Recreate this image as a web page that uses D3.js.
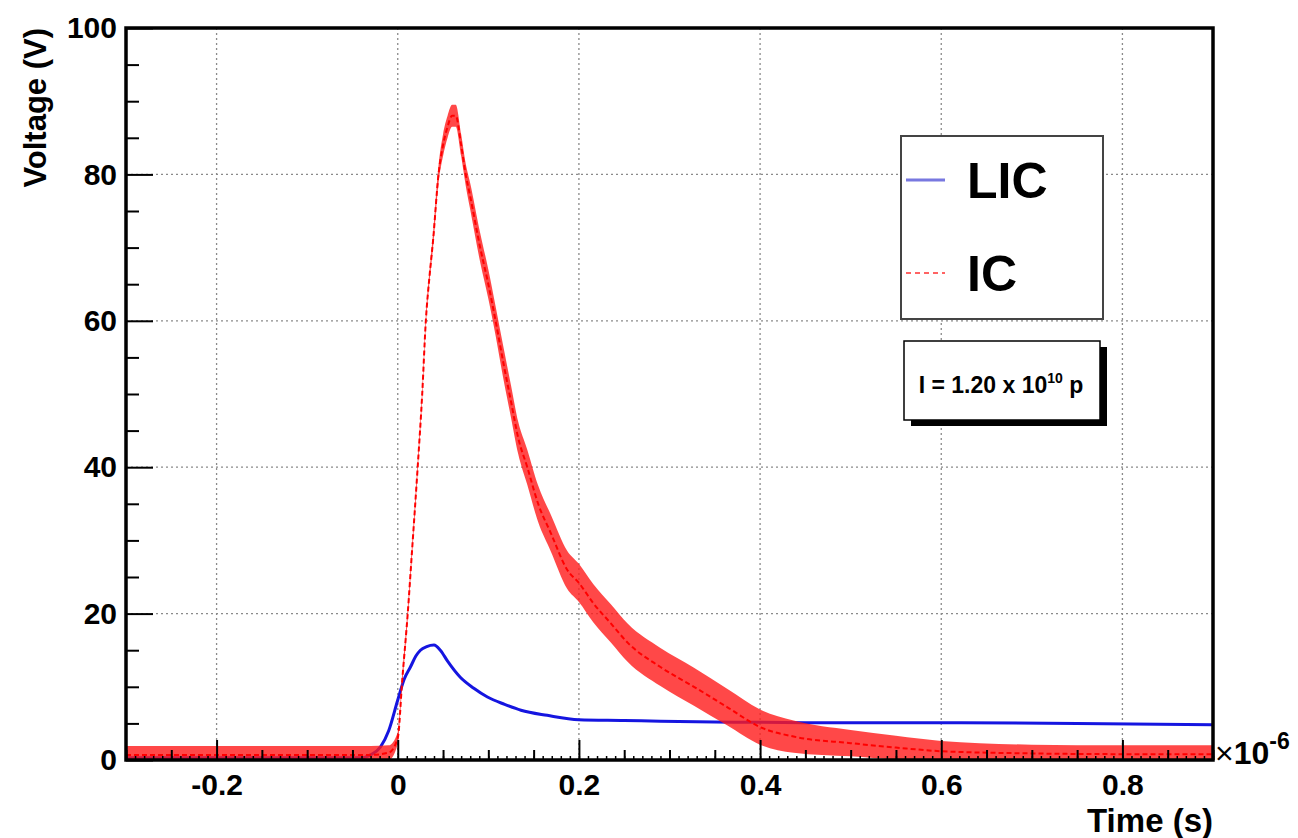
<!DOCTYPE html>
<html>
<head>
<meta charset="utf-8">
<script src="https://cdn.jsdelivr.net/npm/d3@7"></script>
<style>
  body { margin: 0; background: #fff; }
  svg { display: block; font-family: "Liberation Sans", Arial, Helvetica, sans-serif; }
</style>
</head>
<body>
<svg id="chart"></svg>
<script>
(function() {

// ---- data (time in 1e-6 s, voltage in V) ----
const licTime = [-0.3, -0.1, -0.04, -0.03, -0.019, -0.01, 0, 0.007, 0.014, 0.02, 0.025, 0.032, 0.04, 0.047, 0.055, 0.069, 0.084, 0.099, 0.118, 0.136, 0.165, 0.2, 0.25, 0.29, 0.35, 0.45, 0.6, 0.75, 0.9];
const licVolt = [0.3, 0.3, 0.3, 0.7, 1.8, 4, 8.2, 11, 12.7, 14.2, 15.0, 15.5, 15.7, 15.0, 13.5, 11.3, 9.8, 8.6, 7.6, 6.8, 6.1, 5.5, 5.4, 5.3, 5.2, 5.1, 5.1, 5.0, 4.8];

const icTime = [-0.3, -0.2, -0.1, -0.03, -0.01, 0, 0.005, 0.011, 0.016, 0.022, 0.027, 0.031, 0.035, 0.039, 0.045, 0.05, 0.055, 0.06, 0.064, 0.07, 0.075, 0.08, 0.091, 0.1, 0.108, 0.117, 0.125, 0.133, 0.143, 0.155, 0.169, 0.187, 0.2, 0.216, 0.235, 0.254, 0.29, 0.327, 0.364, 0.4, 0.437, 0.5, 0.55, 0.6, 0.7, 0.8, 0.9];
const icVolt = [0.7, 0.7, 0.7, 0.7, 1.0, 3, 11, 20, 29, 40, 50, 60, 66, 71, 80, 84, 86.5, 88, 88, 84, 80, 77, 70, 65, 60, 54, 49, 44, 40, 35, 31, 26, 24.2, 21.4, 18.7, 16, 12.7, 10, 7.2, 4.5, 3.2, 2.3, 1.7, 1.2, 0.9, 0.8, 0.8];
// half width of the noise band around the IC trace
const icSpread = [1.2, 1.2, 1.2, 1.2, 1, 0.8, 0.8, 0.8, 0.8, 0.8, 0.8, 0.8, 0.8, 1, 1.2, 1.5, 1.5, 1.5, 1.5, 1.5, 1.5, 1.8, 2, 2, 2, 2.2, 2.2, 2.2, 2.4, 2.5, 2.5, 2.6, 2.6, 2.6, 2.6, 2.6, 2.6, 2.6, 2.5, 2.4, 2.2, 1.8, 1.6, 1.4, 1.2, 1.2, 1.2];

const xMajor = [-0.2, 0, 0.2, 0.4, 0.6, 0.8];
const yMajor = [0, 20, 40, 60, 80, 100];
const seriesNames = ["LIC", "IC"];
const intensityText = "I = 1.20 x 10";
const intensityExp = "10";

const W = 1298, H = 838;
const margin = { top: 28, right: 85, bottom: 78, left: 126 };
const width = W - margin.left - margin.right;
const height = H - margin.top - margin.bottom;

const svg = d3.select("#chart").attr("width", W).attr("height", H);
const g = svg.append("g").attr("transform", `translate(${margin.left},${margin.top})`);

const x = d3.scaleLinear().domain([-0.3, 0.9]).range([0, width]);
const y = d3.scaleLinear().domain([0, 100]).range([height, 0]);

svg.append("defs").append("clipPath").attr("id", "plot-clip")
  .append("rect").attr("width", width).attr("height", height);

// grid
const gridStyle = sel => sel.attr("stroke", "#8a8a8a").attr("stroke-width", 1.3).attr("stroke-dasharray", "2,3");
g.append("g").selectAll("line").data(xMajor).enter().append("line")
  .attr("x1", d => x(d)).attr("x2", d => x(d)).attr("y1", 0).attr("y2", height)
  .call(gridStyle);
g.append("g").selectAll("line").data(yMajor.filter(v => v > 0 && v < 100)).enter().append("line")
  .attr("y1", d => y(d)).attr("y2", d => y(d)).attr("x1", 0).attr("x2", width)
  .call(gridStyle);

// traces
const plot = g.append("g").attr("clip-path", "url(#plot-clip)");

const lic = licTime.map((t, i) => ({ t, v: licVolt[i] }));
const ic = icTime.map((t, i) => ({ t, v: icVolt[i], s: icSpread[i] }));

plot.append("path")
  .datum(lic)
  .attr("fill", "none")
  .attr("stroke", "#1515e0")
  .attr("stroke-width", 3)
  .attr("d", d3.line().x(d => x(d.t)).y(d => y(d.v)).curve(d3.curveMonotoneX));

plot.append("path")
  .datum(ic)
  .attr("fill", "#ff1a1a")
  .attr("fill-opacity", 0.8)
  .attr("d", d3.area().x(d => x(d.t))
    .y0(d => y(Math.max(0, d.v - d.s)))
    .y1(d => y(d.v + d.s))
    .curve(d3.curveMonotoneX));

plot.append("path")
  .datum(ic)
  .attr("fill", "none")
  .attr("stroke", "#ff0000")
  .attr("stroke-width", 2)
  .attr("stroke-dasharray", "5,3")
  .attr("d", d3.line().x(d => x(d.t)).y(d => y(d.v)).curve(d3.curveMonotoneX));

// axes (ticks point inward like ROOT)
const tickFont = sel => sel.selectAll("text")
  .attr("font-size", "30px").attr("font-weight", "bold").attr("fill", "#000")
  .attr("font-family", "'Liberation Sans', Arial, sans-serif");

const yAx = g.append("g")
  .call(d3.axisLeft(y).tickValues(yMajor).tickFormat(d3.format("d")).tickSize(-27).tickPadding(9));
yAx.call(tickFont);
yAx.select(".domain").remove();
yAx.selectAll("line").attr("stroke", "#000").attr("stroke-width", 2);

const yMinor = g.append("g")
  .call(d3.axisLeft(y).tickValues(d3.range(0, 101, 5).filter(v => v % 20 !== 0)).tickFormat("").tickSize(-13));
yMinor.select(".domain").remove();
yMinor.selectAll("line").attr("stroke", "#000").attr("stroke-width", 2);

const xAx = g.append("g").attr("transform", `translate(0,${height})`)
  .call(d3.axisBottom(x).tickValues(xMajor)
    .tickFormat(d => d === 0 ? "0" : (d < 0 ? "-" : "") + Math.abs(d).toFixed(1))
    .tickSize(-20).tickPadding(14));
xAx.call(tickFont);
xAx.select(".domain").remove();
xAx.selectAll("line").attr("stroke", "#000").attr("stroke-width", 2);

const xMinor = g.append("g").attr("transform", `translate(0,${height})`)
  .call(d3.axisBottom(x).tickValues(d3.range(-0.3, 0.9001, 0.05).filter(v => Math.abs(v * 5 - Math.round(v * 5)) > 1e-6)).tickFormat("").tickSize(-10));
xMinor.select(".domain").remove();
xMinor.selectAll("line").attr("stroke", "#000").attr("stroke-width", 2);

const xTiny = g.append("g").attr("transform", `translate(0,${height})`)
  .call(d3.axisBottom(x).tickValues(d3.range(-0.3, 0.9001, 0.01)).tickFormat("").tickSize(-4));
xTiny.select(".domain").remove();
xTiny.selectAll("line").attr("stroke", "#000").attr("stroke-width", 1.5);

// frame
g.append("rect")
  .attr("width", width).attr("height", height)
  .attr("fill", "none").attr("stroke", "#000").attr("stroke-width", 3.5);

// axis titles
g.append("text")
  .attr("transform", `translate(${-80},0) rotate(-90)`)
  .attr("text-anchor", "end")
  .attr("font-size", "31px").attr("font-weight", "bold")
  .text("Voltage (V)");

g.append("text")
  .attr("x", width).attr("y", height + 72)
  .attr("text-anchor", "end")
  .attr("font-size", "33px").attr("font-weight", "bold")
  .text("Time (s)");

const mult = g.append("text")
  .attr("x", width + 2).attr("y", height + 4)
  .attr("font-size", "32px");
mult.append("tspan").text("\u00d7");
mult.append("tspan").attr("font-weight", "bold").text("10");
mult.append("tspan").attr("dy", -15).attr("font-size", "23px").attr("font-weight", "bold").text("-6");

// legend
const legend = svg.append("g").attr("transform", "translate(901,136)");
legend.append("rect")
  .attr("width", 202).attr("height", 183)
  .attr("fill", "#fff").attr("stroke", "#444").attr("stroke-width", 2);

const legendRows = [
  { name: seriesNames[0], color: "#7878e0", dash: null, cy: 44 },
  { name: seriesNames[1], color: "#ff3030", dash: "5,4", cy: 137 }
];
legendRows.forEach(r => {
  legend.append("line")
    .attr("x1", 5).attr("x2", 44).attr("y1", r.cy).attr("y2", r.cy)
    .attr("stroke", r.color).attr("stroke-width", r.dash ? 1.5 : 3)
    .attr("stroke-dasharray", r.dash);
  legend.append("text")
    .attr("x", 66).attr("y", r.cy + 18)
    .attr("font-size", "50px").attr("font-weight", "bold")
    .text(r.name);
});

// intensity box with shadow
const box = svg.append("g").attr("transform", "translate(904,341)");
box.append("rect").attr("x", 7).attr("y", 6).attr("width", 196).attr("height", 79).attr("fill", "#000");
box.append("rect").attr("width", 196).attr("height", 79)
  .attr("fill", "#fff").attr("stroke", "#000").attr("stroke-width", 1.5);
const itext = box.append("text")
  .attr("x", 97).attr("y", 52)
  .attr("text-anchor", "middle")
  .attr("font-size", "23px").attr("font-weight", "bold");
itext.append("tspan").text(intensityText);
itext.append("tspan").attr("dy", -10).attr("font-size", "14px").text(intensityExp);
itext.append("tspan").attr("dy", 10).text(" p");

})();
</script>
</body>
</html>
